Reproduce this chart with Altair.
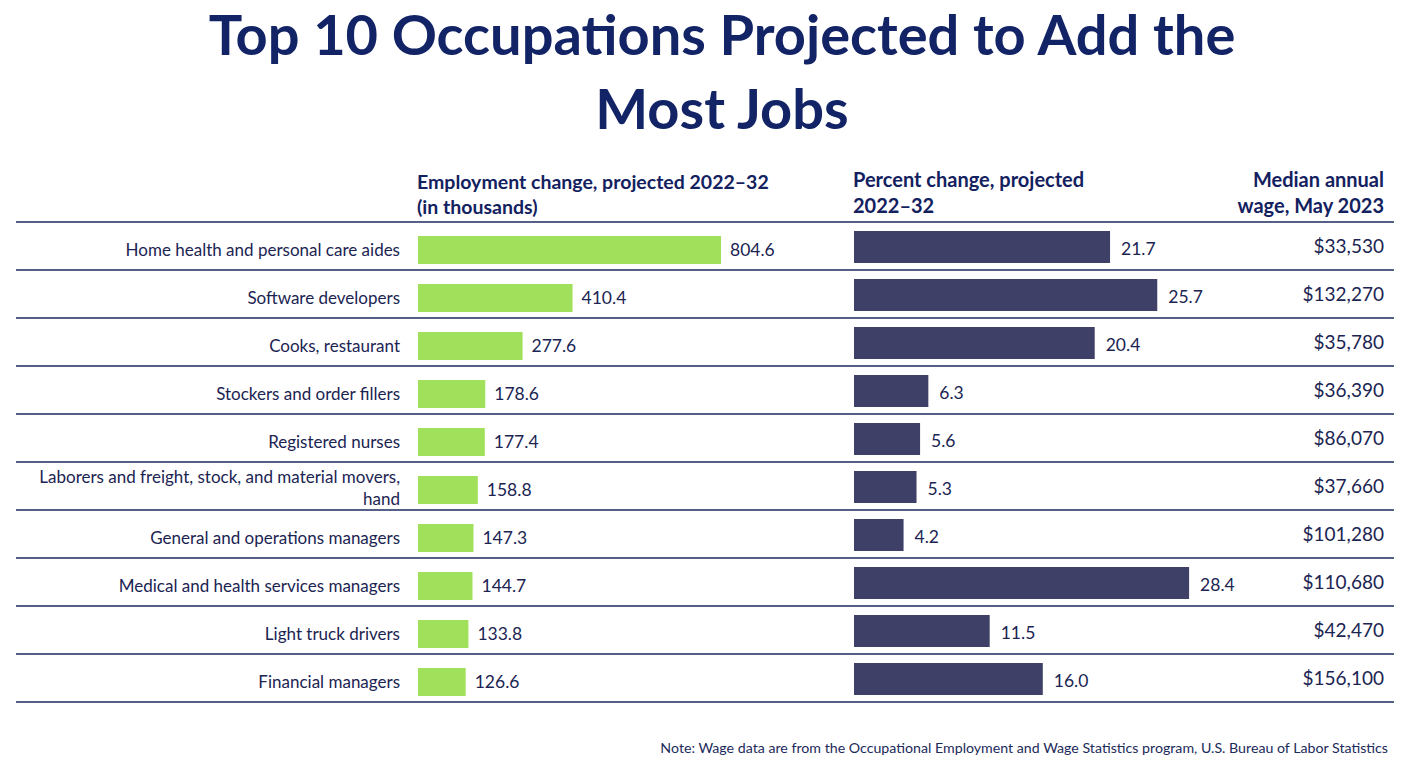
import altair as alt
import pandas as pd

occupations = [
    "Home health and personal care aides",
    "Software developers",
    "Cooks, restaurant",
    "Stockers and order fillers",
    "Registered nurses",
    "Laborers and freight, stock, and material movers, hand",
    "General and operations managers",
    "Medical and health services managers",
    "Light truck drivers",
    "Financial managers",
]
display_labels = [
    "Home health and personal care aides",
    "Software developers",
    "Cooks, restaurant",
    "Stockers and order fillers",
    "Registered nurses",
    "Laborers and freight, stock, and material movers,\nhand",
    "General and operations managers",
    "Medical and health services managers",
    "Light truck drivers",
    "Financial managers",
]
emp_change = [804.6, 410.4, 277.6, 178.6, 177.4, 158.8, 147.3, 144.7, 133.8, 126.6]
pct_change = [21.7, 25.7, 20.4, 6.3, 5.6, 5.3, 4.2, 28.4, 11.5, 16.0]
wages = [33530, 132270, 35780, 36390, 86070, 37660, 101280, 110680, 42470, 156100]

title_line1 = "Top 10 Occupations Projected to Add the"
title_line2 = "Most Jobs"
header_emp = ["Employment change, projected 2022\u201332", "(in thousands)"]
header_pct = ["Percent change, projected", "2022\u201332"]
header_wage = ["Median annual", "wage, May 2023"]
note = "Note: Wage data are from the Occupational Employment and Wage Statistics program, U.S. Bureau of Labor Statistics"

df = pd.DataFrame({
    "occ": occupations,
    "label": display_labels,
    "emp": emp_change,
    "pct": pct_change,
    "wage": wages,
})
df["lines"] = df["label"].str.count("\n") + 1

NAVY = "#13215f"
TITLE = "#122466"
TEXT = "#1b2452"
GREEN = "#a0e05a"
BAR2 = "#3e4068"
FONT = "Lato"

yscale = alt.Scale(domain=occupations, range=[214, 694], paddingInner=0, paddingOuter=0)

def Y(band=0.5):
    return alt.Y("occ:N", sort=occupations, scale=yscale, axis=None, bandPosition=band)

base = alt.Chart(df)

# separators
rules_top = base.mark_rule(color="#1c2b5e", strokeWidth=1.5).encode(
    y=Y(0), x=alt.value(8), x2=alt.value(1386)
)
rules_bottom = base.transform_filter(
    alt.datum.occ == occupations[-1]
).mark_rule(color="#1c2b5e", strokeWidth=1.5).encode(
    y=Y(1), x=alt.value(8), x2=alt.value(1386)
)

labels_1 = base.transform_filter(alt.datum.lines == 1).mark_text(
    align="right", baseline="middle", font=FONT, fontSize=17, color=TEXT, yOffset=5
).encode(y=Y(), x=alt.value(392), text="label:N")
labels_2 = base.transform_filter(alt.datum.lines == 2).mark_text(
    align="right", baseline="middle", font=FONT, fontSize=17, color=TEXT,
    lineBreak="\n", lineHeight=22, yOffset=-8
).encode(y=Y(), x=alt.value(392), text="label:N")

xg = alt.Scale(domain=[0, 1000], range=[410, 786.6])
green_bars = base.mark_bar(color=GREEN, size=28, yOffset=4).encode(
    y=Y(), x=alt.X("emp:Q", scale=xg, axis=None)
)
green_text = base.mark_text(
    align="left", baseline="middle", dx=9, yOffset=5, font=FONT, fontSize=17.5, color=TEXT
).encode(y=Y(), x=alt.X("emp:Q", scale=xg, axis=None), text=alt.Text("emp:Q", format=".1f"))

xn = alt.Scale(domain=[0, 30], range=[846, 1200])
navy_bars = base.mark_bar(color=BAR2, size=32, yOffset=1).encode(
    y=Y(), x=alt.X("pct:Q", scale=xn, axis=None)
)
navy_text = base.mark_text(
    align="left", baseline="middle", dx=11, yOffset=4, font=FONT, fontSize=17.5, color=TEXT
).encode(y=Y(), x=alt.X("pct:Q", scale=xn, axis=None), text=alt.Text("pct:Q", format=".1f"))

wage_text = base.mark_text(
    align="right", baseline="middle", font=FONT, fontSize=19, color=TEXT, yOffset=1
).encode(y=Y(), x=alt.value(1376), text=alt.Text("wage:Q", format="$,.0f"))

one = pd.DataFrame({"t": [0]})

def txt(lines, x, y, align, size, weight="bold", color=NAVY, lh=None):
    return alt.Chart(one).mark_text(
        align=align, baseline="alphabetic", font=FONT, fontSize=size, fontWeight=weight,
        color=color, lineHeight=lh if lh else size * 1.4
    ).encode(x=alt.value(x), y=alt.value(y), text=alt.value(lines))

title1 = txt(title_line1, 714, 47, "center", 56, color=TITLE)
title2 = txt(title_line2, 714, 121, "center", 56, color=TITLE)
h1 = txt(header_emp, 409, 181, "left", 19.5, lh=25)
h2 = txt(header_pct, 845, 179, "left", 20, lh=26)
h3 = txt(header_wage, 1376, 179, "right", 20, lh=26)
note_t = txt(note, 1380, 745, "right", 14.2, weight="normal", color="#1b2a5a")

chart = alt.layer(
    rules_top, rules_bottom, labels_1, labels_2,
    alt.layer(green_bars, green_text),
    alt.layer(navy_bars, navy_text),
    wage_text, title1, title2, h1, h2, h3, note_t,
).resolve_scale(x="independent").properties(
    width=1386, height=750, padding=0, background="white",
    autosize=alt.AutoSizeParams(type="none")
).configure_view(stroke=None)

chart.save("out.html", embed_options={"renderer": "svg", "actions": False})
